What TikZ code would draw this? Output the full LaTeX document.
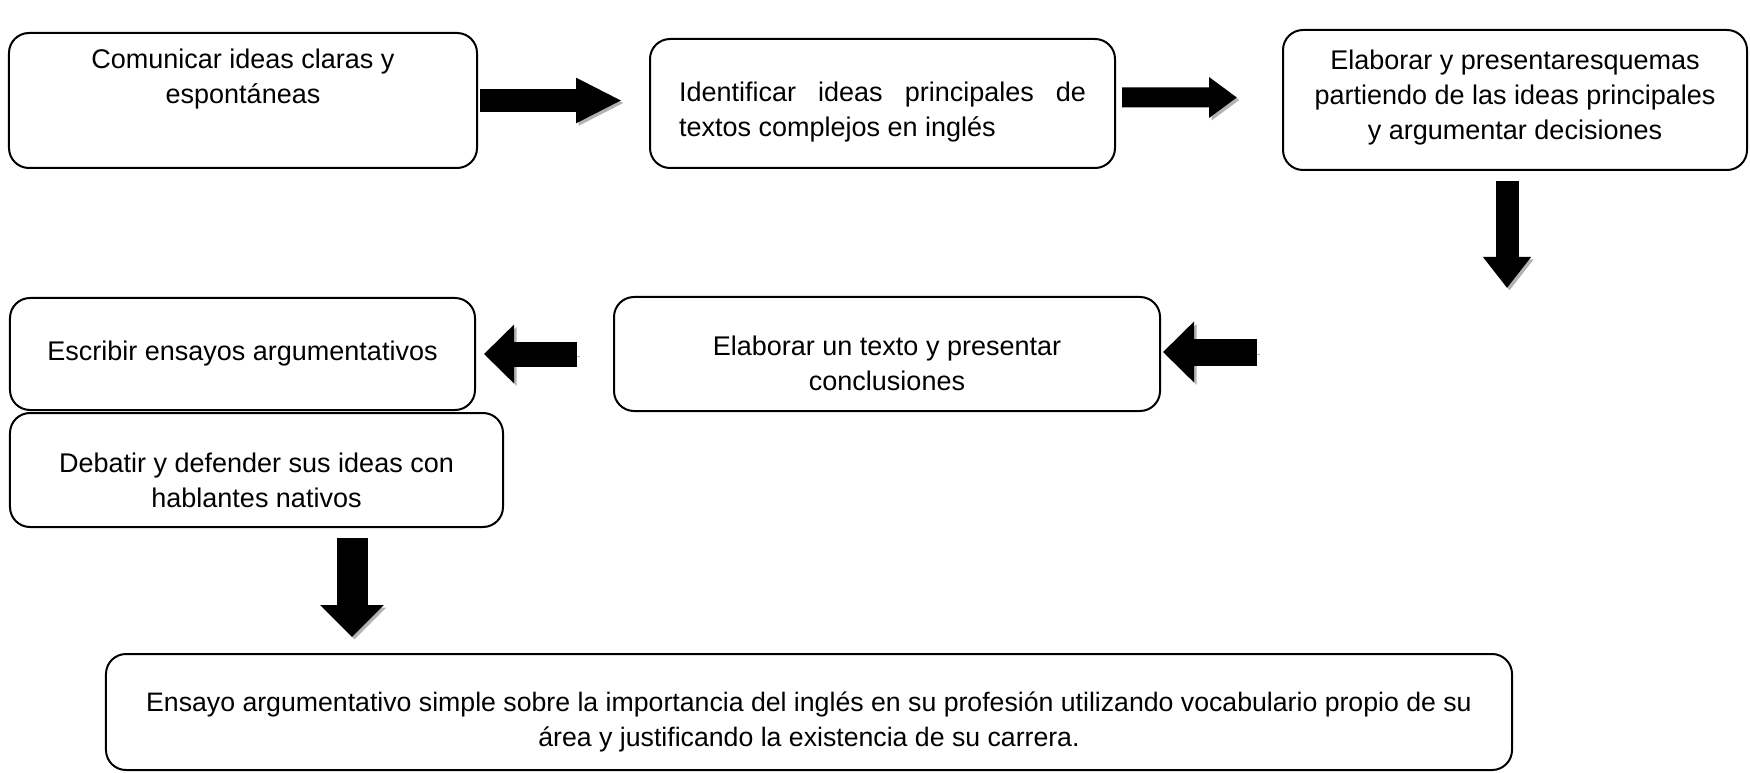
\documentclass[tikz,border=0pt]{standalone}
\usepackage{fontspec}
\setmainfont{Liberation Sans}
\usepackage{tikz}
\usetikzlibrary{positioning, calc, arrows.meta, shapes}

\begin{document}
\begin{tikzpicture}[x=0.4pt, y=-0.4pt, line join=bevel,
    caja/.style={draw, rounded corners=8pt, line width=0.8pt, inner sep=0pt},
    texto/.style={inner sep=0pt, align=center, font=\fontsize{10.8}{14}\selectfont},
    flecha/.style n args={3}{line width=#1, -{Triangle[length=#3, width=#2]},
      preaction={draw=black!30, transform canvas={shift={(1pt,-1pt)}}}}]
  \useasboundingbox (0,0) rectangle (1750,772);
  % fila superior
  \node[caja, minimum width=187.2pt, minimum height=54pt] (comunicar) at (243,100.5) {};
  \node[texto] (tcomunicar) at ([yshift=8.5pt]comunicar.center) {Comunicar ideas claras y\\espontáneas};
  \node[caja, minimum width=186pt, minimum height=51.6pt] (identificar) at (882.5,103.5) {};
  \node[texto] (tidentificar) at ([yshift=-3.6pt]identificar.center)
    {\parbox{162.8pt}{Identificar ideas principales de\linebreak textos complejos en inglés}};
  \node[caja, minimum width=185.6pt, minimum height=56pt] (esquemas) at (1515,100) {};
  \node[texto] (tesquemas) at ([yshift=0.9pt]esquemas.center)
    {Elaborar y presentaresquemas\\partiendo de las ideas principales\\y argumentar decisiones};
  % fila central
  \node[caja, minimum width=218.4pt, minimum height=45.6pt] (texto) at (887,354) {};
  \node[texto] (ttexto) at ([yshift=-3.6pt]texto.center) {Elaborar un texto y presentar\\conclusiones};
  \node[caja, minimum width=186pt, minimum height=44.8pt] (escribir) at (242.5,354) {};
  \node[texto] (tescribir) at (escribir.center) {Escribir ensayos argumentativos};
  \node[caja, minimum width=197.2pt, minimum height=45.6pt] (debatir) at (256.5,470) {};
  \node[texto] (tdebatir) at ([yshift=-4pt]debatir.center) {Debatir y defender sus ideas con\\hablantes nativos};
  % abajo
  \node[caja, minimum width=562.4pt, minimum height=46.4pt] (ensayo) at (809,712) {};
  \node[texto, font=\fontsize{10.67}{14}\selectfont] (tensayo) at ([yshift=-4pt]ensayo.center)
    {Ensayo argumentativo simple sobre la importancia del inglés en su profesión utilizando vocabulario propio de su\\área y justificando la existencia de su carrera.};
  \coordinate (giro) at (1507,288);
  \coordinate (retorno) at (1257,352);

  \draw[flecha={9.2pt}{16.8pt}{18.4pt}, shorten <=0.8pt, shorten >=10.8pt]
    (comunicar.east) -- (comunicar.east -| identificar.west);
  \draw[flecha={8pt}{15.6pt}{11.2pt}, shorten <=2.4pt, shorten >=18pt]
    ([yshift=2.4pt]identificar.east) -- ([yshift=1pt]esquemas.west);
  \draw[flecha={9.2pt}{18.4pt}{12.4pt}, shorten <=4pt]
    (esquemas.south -| giro) -- (giro);
  \draw[flecha={10.8pt}{23.6pt}{12.4pt}, shorten >=0.8pt]
    (retorno) -- (retorno -| texto.east);
  \draw[flecha={10pt}{22.8pt}{12pt}, shorten <=14.4pt, shorten >=3.2pt]
    (texto.west) -- (escribir.east);
  \draw[flecha={12.4pt}{24.8pt}{12.8pt}, shorten <=4pt, shorten >=6.4pt]
    ([xshift=38.2pt]debatir.south) -- ([xshift=38.2pt]debatir.south |- ensayo.north);
\end{tikzpicture}
\end{document}
